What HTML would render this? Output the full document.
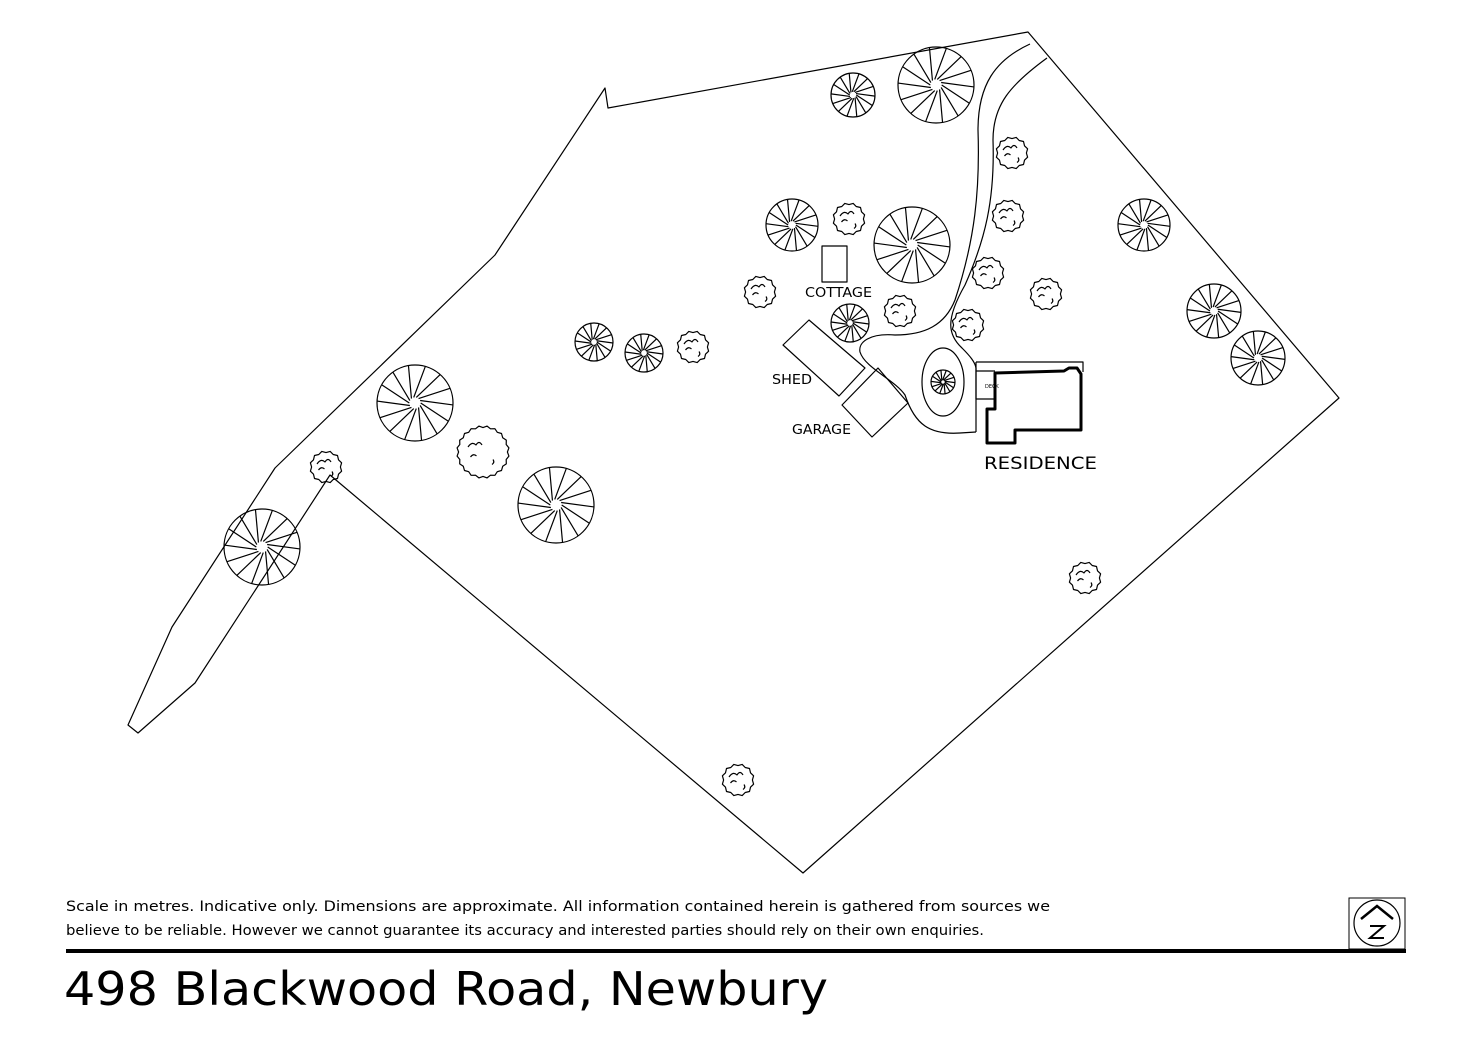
<!DOCTYPE html>
<html><head><meta charset="utf-8"><style>
html,body{margin:0;padding:0;background:#fff}
svg{display:block}
text{font-family:"DejaVu Sans","Liberation Sans",sans-serif;fill:#000}
</style></head><body>
<svg id="s" width="1472" height="1051" viewBox="0 0 1472 1051" xmlns="http://www.w3.org/2000/svg">
<g fill="none" stroke="#000" stroke-width="1.2" stroke-linejoin="round">
<path d="M128,725 L172,627 L275,468 L495,255 L605,88 L608,108 L1028,32 L1339,398 L803,873 L330,475 L195,683 L138,733 Z"/>
<path d="M1030,44 C995,60 978,85 978,130 C980,190 975,240 955,300 C945,325 925,335 895,335 C870,333 858,342 860,352 C865,368 895,380 905,395 C915,425 930,435 960,433 L976,432"/>
<path d="M1047,58 C1010,85 993,105 993,140 C995,200 985,240 965,285 C945,320 948,335 962,348 C970,356 975,362 976,368 L976,432"/>
<ellipse cx="943" cy="382" rx="21" ry="34"/>
<rect x="822" y="246" width="25" height="36"/>
<path d="M783,345 L809,320 L865,368 L839,396 Z"/>
<path d="M842,405 L878,368 L908,403 L872,437 Z"/>
<path d="M976,362 L1083,362 L1083,372 M976,362 L976,399 L995,399 M976,371 L995,371"/>
<path stroke-width="3" d="M995,373 L1064,371 L1069,368 L1077,368 L1081,374 L1081,430 L1015,430 L1015,443 L987,443 L987,409 L995,409 Z"/>
<g id="trees"></g>
</g>
<text x="985" y="388" font-size="5">DECK</text>
<text x="805" y="297" font-size="13" textLength="67" lengthAdjust="spacingAndGlyphs">COTTAGE</text>
<text x="772" y="384" font-size="13" textLength="40" lengthAdjust="spacingAndGlyphs">SHED</text>
<text x="792" y="434" font-size="13" textLength="59" lengthAdjust="spacingAndGlyphs">GARAGE</text>
<text x="984" y="469" font-size="17" textLength="113" lengthAdjust="spacingAndGlyphs">RESIDENCE</text>
<text x="66" y="911" font-size="14.5" textLength="984" lengthAdjust="spacingAndGlyphs">Scale in metres. Indicative only. Dimensions are approximate. All information contained herein is gathered from sources we</text>
<text x="66" y="935" font-size="14.5" textLength="918" lengthAdjust="spacingAndGlyphs">believe to be reliable. However we cannot guarantee  its accuracy and interested parties should rely on their own enquiries.</text>
<rect x="66" y="949" width="1340" height="4" fill="#000"/>
<text x="64" y="1005" font-size="46" textLength="764" lengthAdjust="spacingAndGlyphs">498 Blackwood Road, Newbury</text>
<rect x="1349" y="898" width="56" height="51" fill="none" stroke="#000" stroke-width="1"/>
<circle cx="1377" cy="923" r="23" fill="none" stroke="#000" stroke-width="1.2"/>
<path d="M1361,919 L1377,906 L1393,919" fill="none" stroke="#000" stroke-width="2.5"/>
<path d="M1370,926 L1384,926 L1370,938 L1384,938" fill="none" stroke="#000" stroke-width="2"/>
</svg>
<script>
var g=document.getElementById('trees'),h='';
var sp=[[853,95,22],[936,85,38],[792,225,26],[912,245,38],[1144,225,26],[1214,311,27],[1258,358,27],[594,342,19],[644,353,19],[415,403,38],[556,505,38],[262,547,38],[850,323,19],[943,382,12]];
sp.forEach(function(t){var x=t[0],y=t[1],r=t[2];h+='<circle cx="'+x+'" cy="'+y+'" r="'+r+'"/>';
var n=14;for(var i=0;i<n;i++){var a=i*2*Math.PI/n,b=a+0.5;var ir=r*0.15;
h+='<line x1="'+(x+ir*Math.cos(a))+'" y1="'+(y+ir*Math.sin(a))+'" x2="'+(x+r*Math.cos(b))+'" y2="'+(y+r*Math.sin(b))+'"/>';}});
var sc=[[1012,153,15],[1008,216,15],[988,273,15],[1046,294,15],[968,325,15],[900,311,15],[849,219,15],[760,292,15],[693,347,15],[483,452,25],[326,467,15],[1085,578,15],[738,780,15]];
sc.forEach(function(t){var x=t[0],y=t[1],r=t[2],d='';var n=Math.round(r*1.6);
for(var i=0;i<=n;i++){var a=i*2*Math.PI/n;var rr=r+(i%2?1.2:-0.6);d+=(i?'L':'M')+(x+rr*Math.cos(a)).toFixed(1)+','+(y+rr*Math.sin(a)).toFixed(1);}
h+='<path d="'+d+'Z"/>';
h+='<path d="M'+(x-r*0.6)+','+(y-r*0.2)+' q4,-6 8,-2 q3,-5 6,0 M'+(x-r*0.5)+','+(y+r*0.2)+' q3,-4 6,-1 M'+(x+r*0.4)+','+(y+r*0.3)+' q2,3 -1,5"/>';});
g.innerHTML=h;
</script>
</body></html>
